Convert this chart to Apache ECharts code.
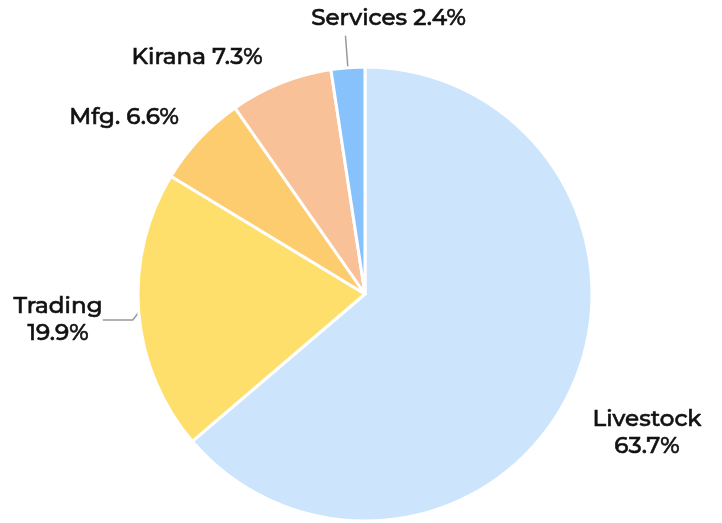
<!DOCTYPE html>
<html>
<head>
<meta charset="utf-8">
<script src="https://cdn.jsdelivr.net/npm/echarts@6/dist/echarts.min.js"></script>
<style>
  * { margin: 0; padding: 0; }
  html, body { width: 722px; height: 523px; background: #fff; }
</style>
</head>
<body>
<div id="sectorPieId" style="width: 722px; height: 523px;"></div>
<script>
// 各行业占比
const sectors = ["Livestock", "Trading", "Mfg.", "Kirana", "Services"];
const shares = [63.7, 19.9, 6.6, 7.3, 2.4];
const sectorColors = ["#cce5fd", "#ffdf6b", "#fdcc6e", "#f9c197", "#88c2fc"];

let chart = echarts.init(document.getElementById("sectorPieId"));

let pieData = sectors.map((name, i) => {
  let twoLine = name == "Livestock" || name == "Trading";
  let item = {
    name: name,
    value: shares[i],
    itemStyle: { color: sectorColors[i] },
    label: {
      formatter: twoLine ? "{b}\n{c}%" : "{b} {c}%",
      align: "center"
    },
    labelLine: { show: name == "Trading" || name == "Services" }
  };
  if (name == "Services") {
    // 竖直引线，标签放在上方
    item.label.padding = [0, 0, 4, 96];
    item.labelLine.length = 32;
    item.labelLine.length2 = 0;
  }
  return item;
});

let option = {
  animation: false,
  series: [
    {
      type: "pie",
      center: [365, 294],
      radius: 227,
      startAngle: 90,
      clockwise: true,
      avoidLabelOverlap: false,
      data: pieData,
      itemStyle: { borderColor: "#fff", borderWidth: 3 },
      label: {
        show: true,
        position: "outside",
        color: "#111",
        fontFamily: "Montserrat, Lato, 'Open Sans', sans-serif",
        fontWeight: 500,
        fontSize: 23,
        lineHeight: 27,
        textBorderColor: "#111", // 加粗一点，接近 medium 字重
        textBorderWidth: 0.6,
        overflow: "none"
      },
      labelLine: {
        lineStyle: { color: "#999", width: 1.5 }
      },
      // 标签位置微调
      labelLayout: params => {
        if (params.dataIndex == 4) {
          return { align: "center", verticalAlign: "bottom" };
        }
        let pos = {
          0: { x: 647, y: 433 },
          1: { x: 58, y: 320 },
          2: { x: 124, y: 117 },
          3: { x: 197, y: 57 }
        }[params.dataIndex];
        return { x: pos.x, y: pos.y, align: "center", verticalAlign: "middle" };
      }
    }
  ]
};
chart.setOption(option);
</script>
</body>
</html>
